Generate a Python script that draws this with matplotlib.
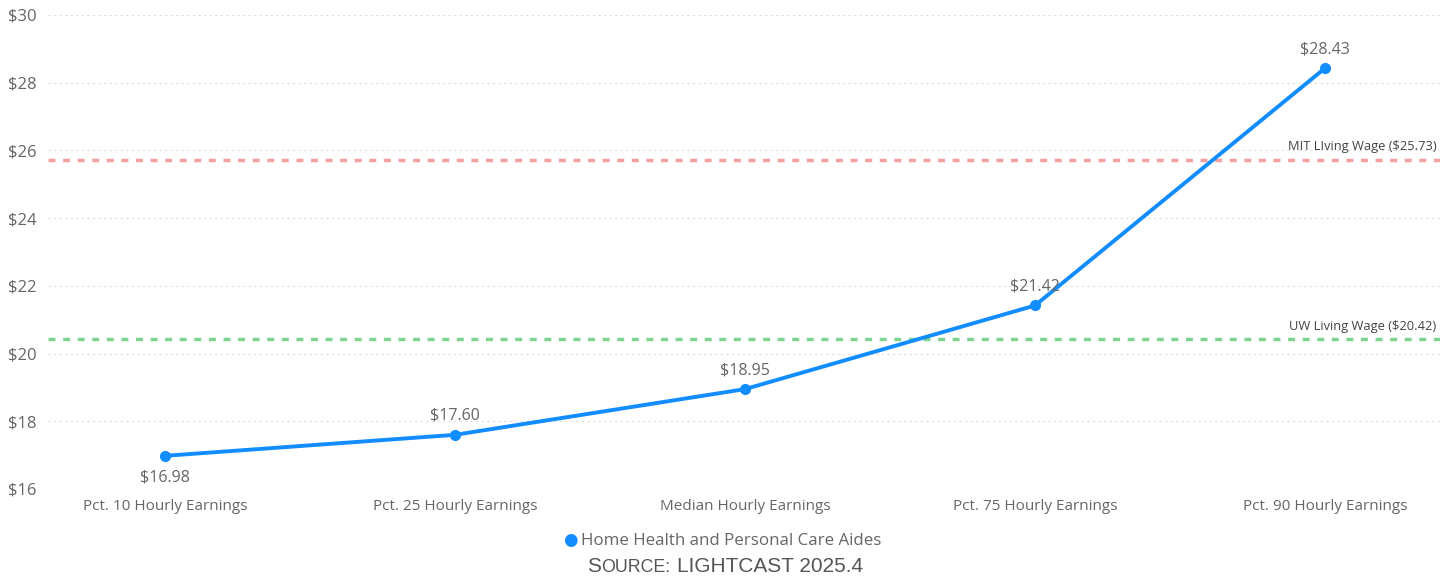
import numpy as np
import matplotlib.pyplot as plt

# data
categories = ["Pct. 10 Hourly Earnings", "Pct. 25 Hourly Earnings", "Median Hourly Earnings",
              "Pct. 75 Hourly Earnings", "Pct. 90 Hourly Earnings"]
wages = [16.98, 17.60, 18.95, 21.42, 28.43]
series_name = "Home Health and Personal Care Aides"
mit_wage = 25.73
uw_wage = 20.42
yticks = [16, 18, 20, 22, 24, 26, 28, 30]

plt.rcParams['font.family'] = ['Open Sans', 'DejaVu Sans']

W, H = 1454, 578
fig = plt.figure(figsize=(W / 100, H / 100), dpi=100)
ax = fig.add_axes([48 / W, 1 - 489 / H, (1440 - 48) / W, (489 - 15) / H])

x = np.arange(len(categories))
blue = '#118DFF'
grey = '#666666'

for t in yticks:
    ax.axhline(t, color='#dddddd', lw=0.8, ls=(0, (2, 3)), zorder=0)

ax.axhline(mit_wage, color='#F4A0A0', lw=2.5, ls=(0, (2, 2.2)), zorder=1)
ax.axhline(uw_wage, color='#7FD491', lw=2.5, ls=(0, (2, 2.2)), zorder=1)

ax.plot(x, wages, color=blue, lw=2.8, marker='o', ms=7, zorder=3)

for i, v in enumerate(wages):
    if i == 0:
        ax.annotate(f"${v:.2f}", (x[i], v), xytext=(0, -10), textcoords='offset points',
                    ha='center', va='top', fontsize=11.5, color=grey)
    else:
        ax.annotate(f"${v:.2f}", (x[i], v), xytext=(0, 8), textcoords='offset points',
                    ha='center', va='bottom', fontsize=11.5, color=grey)

ax.set_xlim((48 - 165) / 290, (1440 - 165) / 290)
ax.set_ylim(16, 30)
ax.text(0.9975, mit_wage + 0.2, f"MIT LIving Wage (${mit_wage})", transform=ax.get_yaxis_transform(),
        ha='right', va='bottom', fontsize=9.3, color='#444444')
ax.text(0.9975, uw_wage + 0.2, f"UW Living Wage (${uw_wage})", transform=ax.get_yaxis_transform(),
        ha='right', va='bottom', fontsize=9.3, color='#444444')

ax.set_xticks(x)
ax.set_xticklabels(categories, fontsize=11, color=grey)
ax.set_yticks(yticks)
ax.set_yticklabels([f"${t}" for t in yticks], fontsize=12, color=grey)
ax.tick_params(length=0, pad=7)
ax.tick_params(axis='y', pad=8)
for s in ax.spines.values():
    s.set_visible(False)

# legend
fig.text(570 / W, 1 - 540 / H, "\u25CF", color=blue, fontsize=12, ha='center', va='center',
         family='DejaVu Sans')
fig.text(581 / W, 1 - 541 / H, series_name, color=grey, fontsize=12.2, ha='left', va='center')

# source line in small caps
fig.text(587 / W, 1 - 566 / H, "S", color='#555555', fontsize=15, ha='left', va='center',
         family='Liberation Sans')
fig.text(601 / W, 1 - 567.5 / H, "OURCE:", color='#555555', fontsize=12.8, ha='left', va='center',
         family='Liberation Sans')
fig.text(677 / W, 1 - 566 / H, "LIGHTCAST 2025.4", color='#555555', fontsize=15, ha='left',
         va='center', family='Liberation Sans')

fig.savefig("out.png", dpi=100)
